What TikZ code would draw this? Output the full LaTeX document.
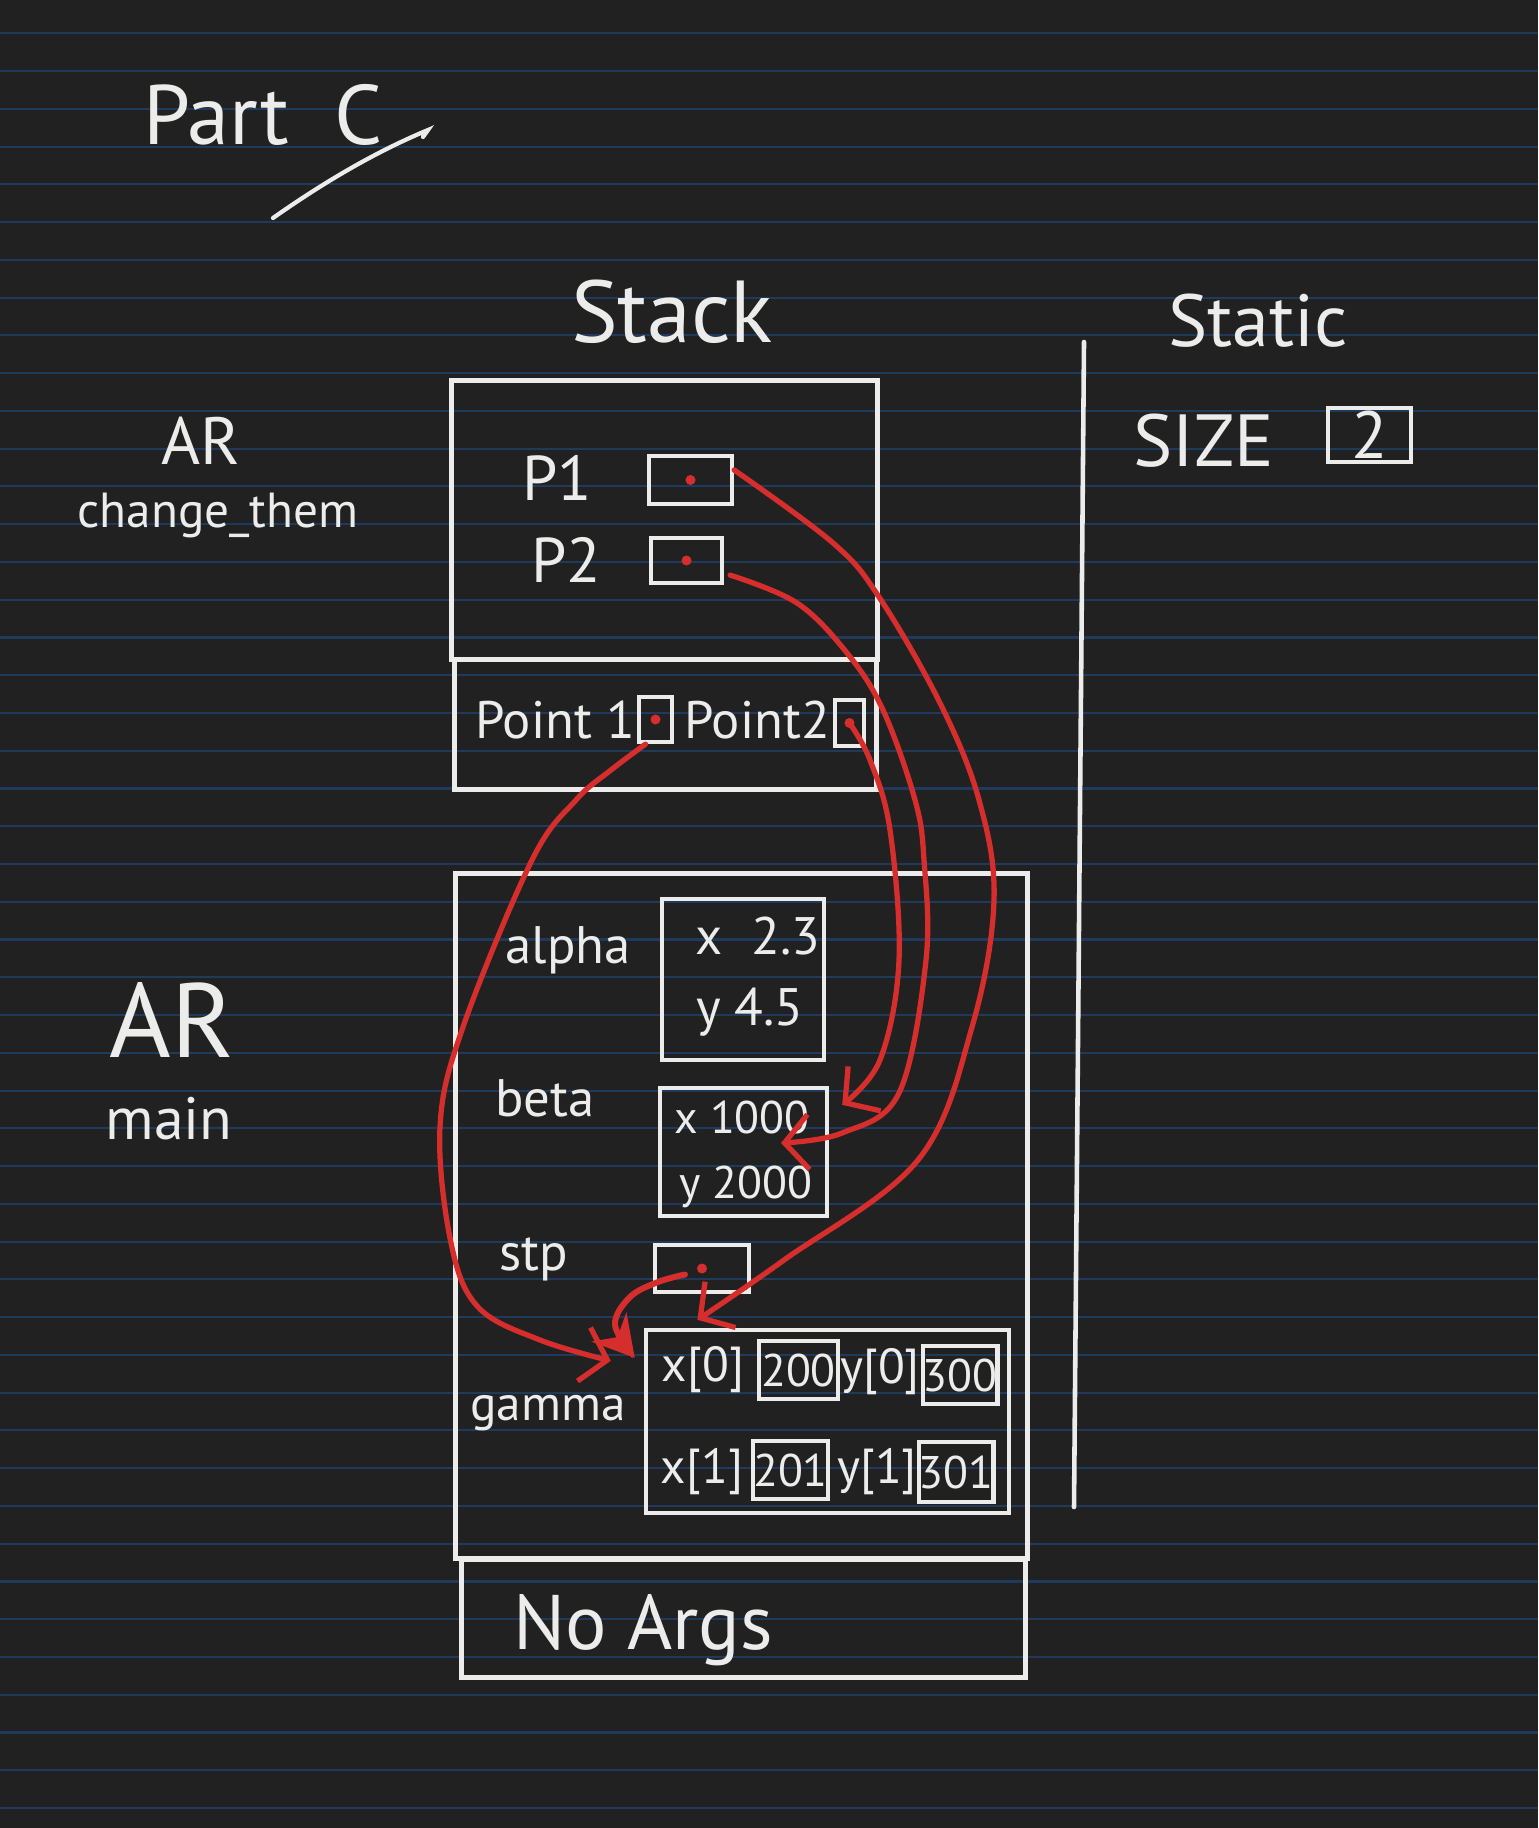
\documentclass[tikz,border=0pt]{standalone}
\usepackage{fontspec}
\setmainfont{PT Sans}
\usepackage{tikz}
\usetikzlibrary{arrows.meta,positioning}

\definecolor{paper}{RGB}{33,33,33}
\definecolor{ruling}{RGB}{30,58,92}
\definecolor{ink}{RGB}{236,236,234}
\definecolor{ptr}{RGB}{214,46,44}

\newcommand\handsize[1]{\fontsize{#1}{#1}\selectfont}

\begin{document}
\begin{tikzpicture}[x=0.01cm, y=-0.01cm,
    frame/.style={draw=ink, line width=1.4pt, inner sep=0pt},
    cell/.style={draw=ink, text=ink, line width=1.2pt, inner sep=0pt},
    txt/.style={text=ink, inner sep=0pt},
    link/.style={draw=ptr, line width=1.5pt, line cap=round, ->, >={Straight Barb[length=2.4mm,width=5.5mm]}},
    biglink/.style={draw=ptr, line width=1.7pt, line cap=round, -{Stealth[length=4mm,width=4.5mm]}}]

    % paper
    \fill[paper] (0,0) rectangle (1538,1828);
    \useasboundingbox (0,0) rectangle (1538,1828);
    \foreach \i in {0,...,47}
        \draw[ruling, line width=0.6pt] (0,{33.3+37.76*\i}) -- (1538,{33.3+37.76*\i});

    % headings
    \node (parttitle) [txt, font=\handsize{24}] at (263,115) {Part\ \ C};
    \draw[ink, line width=1.2pt, line cap=round] (273,218) .. controls (330,178) and (380,150) .. (428,130) -- (423,137);
    \node (stacktitle) [txt, font=\handsize{25}] at (672,312) {Stack};
    \node (statictitle) [txt, font=\handsize{21}] at (1258,321) {Static};
    \draw[ink, line width=1.3pt, line cap=round] (1084,342) -- (1074,1507);

    % static area
    \node (sizelbl) [txt, font=\handsize{21}] at (1204,441) {SIZE};
    \node (sizebox) [cell, minimum width=0.83cm, minimum height=0.54cm, font=\handsize{19}] at (1369.5,435) {2};

    % activation records
    \node (arctop) [txt, font=\handsize{19}] at (201,441) {AR};
    \node (arcname) [txt, font=\handsize{14}] at (218,515) {change\_them};
    \node (armain) [txt, font=\handsize{30}] at (172,1020) {AR};
    \node (armainname) [txt, font=\handsize{17}] at (169,1119) {main};

    \node (ctframe) [frame, minimum width=4.25cm, minimum height=2.78cm] at (664.5,520) {};
    \node (ctargs) [frame, minimum width=4.21cm, minimum height=1.29cm] at (665.5,724.5) {};
    \node (mainframe) [frame, minimum width=5.71cm, minimum height=6.84cm] at (741.5,1216) {};
    \node (mainargs) [frame, minimum width=5.63cm, minimum height=1.17cm] at (743.5,1618.5) {};

    % change_them locals and args
    \node (p1lbl) [txt, font=\handsize{18}] at (557,478) {P1};
    \node (p1box) [cell, minimum width=0.83cm, minimum height=0.48cm] at (690.5,480) {};
    \node (p2lbl) [txt, font=\handsize{18}] at (566,560) {P2};
    \node (p2box) [cell, minimum width=0.71cm, minimum height=0.45cm] at (686.5,560.5) {};
    \node (pt1lbl) [txt, font=\handsize{15}] at (555,720) {Point 1};
    \node (pt1box) [cell, minimum width=0.33cm, minimum height=0.45cm] at (655.5,719.5) {};
    \node (pt2lbl) [txt, font=\handsize{15}] at (757,720) {Point2};
    \node (pt2box) [cell, minimum width=0.29cm, minimum height=0.46cm] at (849.5,723) {};

    % main locals
    \node (alphalbl) [txt, font=\handsize{15}] at (568,950) {alpha};
    \node (alphabox) [cell, minimum width=1.62cm, minimum height=1.61cm] at (743,979.5) {};
    \node (alphax) [txt, font=\handsize{15}] at (758,936) {x\ \ 2.3};
    \node (alphay) [txt, font=\handsize{15}] at (750,1012) {y 4.5};

    \node (betalbl) [txt, font=\handsize{15}] at (545,1098) {beta};
    \node (betabox) [cell, minimum width=1.67cm, minimum height=1.28cm] at (743.5,1152) {};
    \node (betax) [txt, font=\handsize{13}] at (742,1117) {x\ 1000};
    \node (betay) [txt, font=\handsize{13}] at (746,1187) {y 2000};

    \node (stplbl) [txt, font=\handsize{15}] at (534,1259) {stp};
    \node (stpbox) [cell, minimum width=0.94cm, minimum height=0.47cm] at (702,1268.5) {};

    \node (gammalbl) [txt, font=\handsize{14}] at (548,1413) {gamma};
    \node (gammabox) [cell, minimum width=3.63cm, minimum height=1.83cm] at (827.5,1421.5) {};
    \node (gx0) [txt, font=\handsize{14}] at (703,1370) {x[0]};
    \node (gx0val) [cell, minimum width=0.79cm, minimum height=0.58cm, font=\handsize{13}] at (798.5,1370) {200};
    \node (gy0) [txt, font=\handsize{14}] at (880,1372) {y[0]};
    \node (gy0val) [cell, minimum width=0.74cm, minimum height=0.58cm, font=\handsize{13}] at (960,1375) {300};
    \node (gx1) [txt, font=\handsize{14}] at (702,1472) {x[1]};
    \node (gx1val) [cell, minimum width=0.75cm, minimum height=0.58cm, font=\handsize{13}] at (790.5,1470) {201};
    \node (gy1) [txt, font=\handsize{14}] at (877,1472) {y[1]};
    \node (gy1val) [cell, minimum width=0.72cm, minimum height=0.6cm, font=\handsize{13}] at (956,1472) {301};

    \node (noargs) [txt, font=\handsize{22}] at (643,1630) {No Args};

    % pointers
    \foreach \b in {p1box,p2box,pt1box,pt2box,stpbox}
        \fill[ptr] (\b.center) circle (0.05cm);

    \draw[link] plot[smooth, tension=0.6] coordinates {([yshift=0.1cm]p1box.east) (833,543) (879,597) (940,703) (979,800) (994,900) (972,1027) (918,1160) (784,1260) ([xshift=-1.3cm,yshift=0.08cm]gammabox.north)};
    \draw[link] plot[smooth, tension=0.6] coordinates {([xshift=0.06cm,yshift=0.1cm]p2box.south east) (797,603) (847,653) (883,710) (915,800) (924,860) (926,960) (899,1093) (842,1133) ([xshift=0.375cm,yshift=0.09cm]betabox.center)};
    \draw[link] plot[smooth, tension=0.6] coordinates {(pt2box.center) (870,760) (890,830) (899,960) (880,1060) ([xshift=0.13cm,yshift=-0.19cm]betabox.north east)};
    \draw[link] plot[smooth, tension=0.6] coordinates {([xshift=-0.1cm]pt1box.south) (611,770) (576,800) (532,860) (463,1027) (440,1127) (451,1243) (478,1307) (540,1340) ([xshift=-0.33cm,yshift=-0.33cm]gammabox.north west)};
    \draw[biglink] plot[smooth, tension=0.6] coordinates {([xshift=-0.17cm,yshift=-0.06cm]stpbox.center) (658,1282) (630,1297) (615,1325) ([xshift=-0.09cm,yshift=-0.3cm]gammabox.north west)};
\end{tikzpicture}
\end{document}
